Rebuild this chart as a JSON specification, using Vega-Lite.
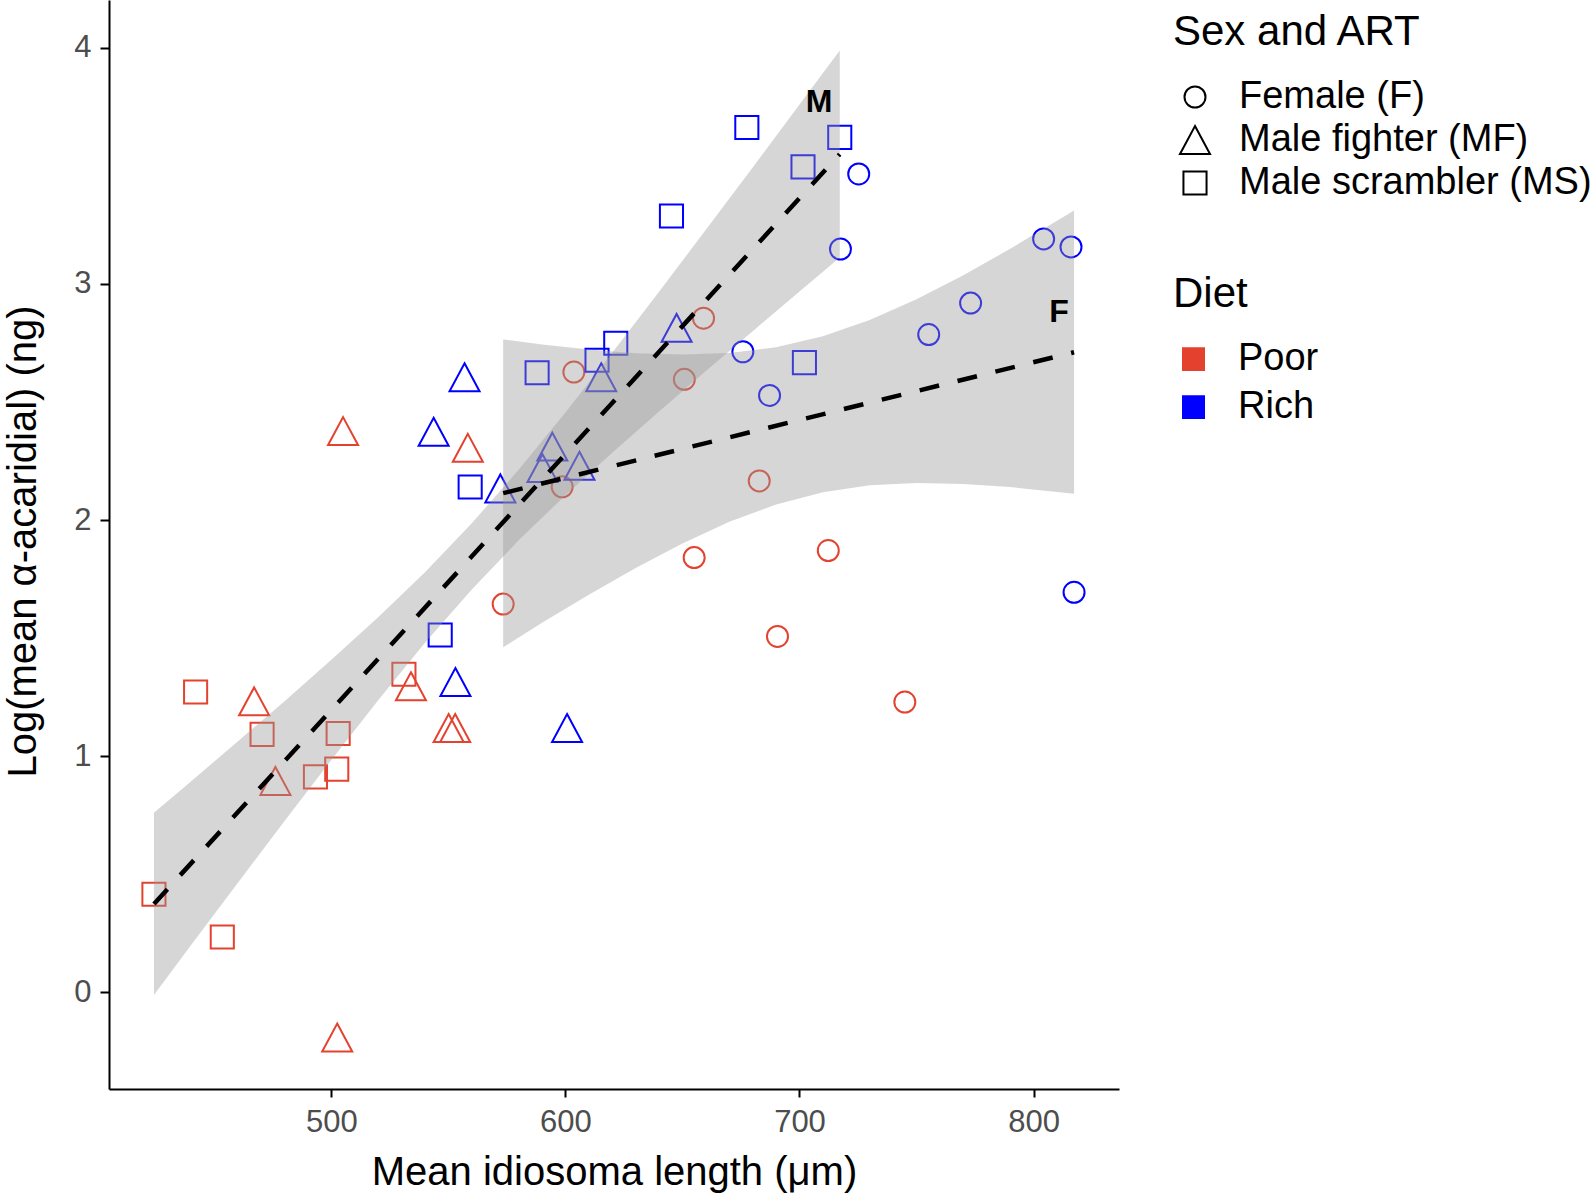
{
  "$schema": "https://vega.github.io/schema/vega-lite/v6.json",
  "width": 1010,
  "height": 1089,
  "autosize": {"type": "none"},
  "padding": {"left": 109, "top": 0, "right": 475, "bottom": 109},
  "background": "white",
  "config": {
    "view": {"stroke": null},
    "font": "Liberation Sans",
    "axis": {
      "grid": false,
      "domainColor": "black",
      "domainWidth": 2,
      "tickColor": "black",
      "tickWidth": 2,
      "labelColor": "#4D4D4D",
      "labelFont": "Liberation Sans",
      "labelFontSize": 31,
      "titleFont": "Liberation Sans",
      "titleFontSize": 40,
      "titleFontWeight": "normal",
      "titleColor": "black"
    },
    "legend": {
      "titleFont": "Liberation Sans",
      "titleFontSize": 42,
      "titleFontWeight": "normal",
      "titleColor": "black",
      "titleLimit": 800,
      "labelFont": "Liberation Sans",
      "labelFontSize": 38,
      "labelColor": "black",
      "labelLimit": 800,
      "padding": 0
    }
  },
  "datasets": {
    "points": [
      {"x": 725.3, "y": 3.466, "sex": "Female (F)", "diet": "Rich"},
      {"x": 717.5, "y": 3.148, "sex": "Female (F)", "diet": "Rich"},
      {"x": 804.3, "y": 3.191, "sex": "Female (F)", "diet": "Rich"},
      {"x": 816.0, "y": 3.157, "sex": "Female (F)", "diet": "Rich"},
      {"x": 773.1, "y": 2.919, "sex": "Female (F)", "diet": "Rich"},
      {"x": 755.2, "y": 2.786, "sex": "Female (F)", "diet": "Rich"},
      {"x": 675.8, "y": 2.713, "sex": "Female (F)", "diet": "Rich"},
      {"x": 687.2, "y": 2.528, "sex": "Female (F)", "diet": "Rich"},
      {"x": 817.3, "y": 1.694, "sex": "Female (F)", "diet": "Rich"},
      {"x": 659.0, "y": 2.855, "sex": "Female (F)", "diet": "Poor"},
      {"x": 603.6, "y": 2.627, "sex": "Female (F)", "diet": "Poor"},
      {"x": 650.8, "y": 2.596, "sex": "Female (F)", "diet": "Poor"},
      {"x": 598.6, "y": 2.141, "sex": "Female (F)", "diet": "Poor"},
      {"x": 682.8, "y": 2.166, "sex": "Female (F)", "diet": "Poor"},
      {"x": 655.0, "y": 1.841, "sex": "Female (F)", "diet": "Poor"},
      {"x": 712.3, "y": 1.871, "sex": "Female (F)", "diet": "Poor"},
      {"x": 573.4, "y": 1.644, "sex": "Female (F)", "diet": "Poor"},
      {"x": 690.6, "y": 1.507, "sex": "Female (F)", "diet": "Poor"},
      {"x": 745.0, "y": 1.229, "sex": "Female (F)", "diet": "Poor"},
      {"x": 556.9, "y": 2.605, "sex": "Male fighter (MF)", "diet": "Rich"},
      {"x": 543.7, "y": 2.374, "sex": "Male fighter (MF)", "diet": "Rich"},
      {"x": 572.2, "y": 2.134, "sex": "Male fighter (MF)", "diet": "Rich"},
      {"x": 594.4, "y": 2.311, "sex": "Male fighter (MF)", "diet": "Rich"},
      {"x": 590.2, "y": 2.220, "sex": "Male fighter (MF)", "diet": "Rich"},
      {"x": 606.0, "y": 2.230, "sex": "Male fighter (MF)", "diet": "Rich"},
      {"x": 615.3, "y": 2.605, "sex": "Male fighter (MF)", "diet": "Rich"},
      {"x": 647.5, "y": 2.814, "sex": "Male fighter (MF)", "diet": "Rich"},
      {"x": 553.0, "y": 1.314, "sex": "Male fighter (MF)", "diet": "Rich"},
      {"x": 600.7, "y": 1.119, "sex": "Male fighter (MF)", "diet": "Rich"},
      {"x": 505.0, "y": 2.377, "sex": "Male fighter (MF)", "diet": "Poor"},
      {"x": 558.3, "y": 2.306, "sex": "Male fighter (MF)", "diet": "Poor"},
      {"x": 467.0, "y": 1.232, "sex": "Male fighter (MF)", "diet": "Poor"},
      {"x": 534.0, "y": 1.296, "sex": "Male fighter (MF)", "diet": "Poor"},
      {"x": 550.1, "y": 1.119, "sex": "Male fighter (MF)", "diet": "Poor"},
      {"x": 552.9, "y": 1.119, "sex": "Male fighter (MF)", "diet": "Poor"},
      {"x": 476.1, "y": 0.895, "sex": "Male fighter (MF)", "diet": "Poor"},
      {"x": 502.5, "y": -0.192, "sex": "Male fighter (MF)", "diet": "Poor"},
      {"x": 677.5, "y": 3.663, "sex": "Male scrambler (MS)", "diet": "Rich"},
      {"x": 717.2, "y": 3.621, "sex": "Male scrambler (MS)", "diet": "Rich"},
      {"x": 701.5, "y": 3.496, "sex": "Male scrambler (MS)", "diet": "Rich"},
      {"x": 645.3, "y": 3.288, "sex": "Male scrambler (MS)", "diet": "Rich"},
      {"x": 621.5, "y": 2.749, "sex": "Male scrambler (MS)", "diet": "Rich"},
      {"x": 613.5, "y": 2.677, "sex": "Male scrambler (MS)", "diet": "Rich"},
      {"x": 587.9, "y": 2.624, "sex": "Male scrambler (MS)", "diet": "Rich"},
      {"x": 702.1, "y": 2.667, "sex": "Male scrambler (MS)", "diet": "Rich"},
      {"x": 559.3, "y": 2.140, "sex": "Male scrambler (MS)", "diet": "Rich"},
      {"x": 546.5, "y": 1.513, "sex": "Male scrambler (MS)", "diet": "Rich"},
      {"x": 442.0, "y": 1.272, "sex": "Male scrambler (MS)", "diet": "Poor"},
      {"x": 470.4, "y": 1.092, "sex": "Male scrambler (MS)", "diet": "Poor"},
      {"x": 502.9, "y": 1.096, "sex": "Male scrambler (MS)", "diet": "Poor"},
      {"x": 531.0, "y": 1.347, "sex": "Male scrambler (MS)", "diet": "Poor"},
      {"x": 493.2, "y": 0.912, "sex": "Male scrambler (MS)", "diet": "Poor"},
      {"x": 502.3, "y": 0.945, "sex": "Male scrambler (MS)", "diet": "Poor"},
      {"x": 424.2, "y": 0.415, "sex": "Male scrambler (MS)", "diet": "Poor"},
      {"x": 453.4, "y": 0.234, "sex": "Male scrambler (MS)", "diet": "Poor"}
    ],
    "ribbon": [
      {"fit": "M", "x": 424.2, "lo": -0.012, "hi": 0.760},
      {"fit": "M", "x": 440, "lo": 0.199, "hi": 0.893},
      {"fit": "M", "x": 460, "lo": 0.463, "hi": 1.062},
      {"fit": "M", "x": 480, "lo": 0.725, "hi": 1.233},
      {"fit": "M", "x": 500, "lo": 0.984, "hi": 1.408},
      {"fit": "M", "x": 520, "lo": 1.237, "hi": 1.588},
      {"fit": "M", "x": 540, "lo": 1.480, "hi": 1.779},
      {"fit": "M", "x": 560, "lo": 1.706, "hi": 1.986},
      {"fit": "M", "x": 580, "lo": 1.914, "hi": 2.213},
      {"fit": "M", "x": 600, "lo": 2.105, "hi": 2.456},
      {"fit": "M", "x": 620, "lo": 2.285, "hi": 2.709},
      {"fit": "M", "x": 640, "lo": 2.460, "hi": 2.967},
      {"fit": "M", "x": 660, "lo": 2.631, "hi": 3.230},
      {"fit": "M", "x": 680, "lo": 2.800, "hi": 3.494},
      {"fit": "M", "x": 700, "lo": 2.968, "hi": 3.760},
      {"fit": "M", "x": 717.2, "lo": 3.112, "hi": 3.989},
      {"fit": "F", "x": 573.4, "lo": 1.461, "hi": 2.765},
      {"fit": "F", "x": 590, "lo": 1.565, "hi": 2.744},
      {"fit": "F", "x": 610, "lo": 1.684, "hi": 2.723},
      {"fit": "F", "x": 630, "lo": 1.797, "hi": 2.707},
      {"fit": "F", "x": 650, "lo": 1.901, "hi": 2.701},
      {"fit": "F", "x": 670, "lo": 1.993, "hi": 2.708},
      {"fit": "F", "x": 690, "lo": 2.066, "hi": 2.732},
      {"fit": "F", "x": 710, "lo": 2.118, "hi": 2.779},
      {"fit": "F", "x": 730, "lo": 2.147, "hi": 2.848},
      {"fit": "F", "x": 750, "lo": 2.157, "hi": 2.935},
      {"fit": "F", "x": 770, "lo": 2.153, "hi": 3.037},
      {"fit": "F", "x": 790, "lo": 2.140, "hi": 3.149},
      {"fit": "F", "x": 817.3, "lo": 2.111, "hi": 3.311}
    ],
    "fitline": [
      {"fit": "M", "x": 424.2, "y": 0.374},
      {"fit": "M", "x": 717.2, "y": 3.550},
      {"fit": "F", "x": 573.4, "y": 2.114},
      {"fit": "F", "x": 817.3, "y": 2.711}
    ],
    "labels": [
      {"label": "M", "x": 708.4, "y": 3.78},
      {"label": "F", "x": 810.9, "y": 2.89}
    ]
  },
  "layer": [
    {
      "data": {"name": "points"},
      "mark": {"type": "point", "filled": false, "size": 900, "strokeWidth": 2, "opacity": 1},
      "encoding": {
        "x": {
          "field": "x", "type": "quantitative",
          "scale": {"domain": [405, 836.5], "nice": false, "zero": false},
          "axis": {
            "values": [500, 600, 700, 800],
            "format": "d",
            "title": "Mean idiosoma length (μm)",
            "titleY": 95, "titleBaseline": "alphabetic",
            "labelBaseline": "alphabetic", "labelPadding": 34, "tickSize": 8
          }
        },
        "y": {
          "field": "y", "type": "quantitative",
          "scale": {"domain": [-0.41, 4.203], "nice": false, "zero": false},
          "axis": {
            "values": [0, 1, 2, 3, 4],
            "format": "d",
            "title": "Log(mean α-acaridial) (ng)",
            "titleX": -74, "titleY": 541, "titleAngle": 270,
            "titleBaseline": "alphabetic", "titleAlign": "center",
            "tickSize": 9, "labelPadding": 9
          }
        },
        "shape": {
          "field": "sex", "type": "nominal",
          "scale": {
            "domain": ["Female (F)", "Male fighter (MF)", "Male scrambler (MS)"],
            "range": [
              "M 0.7 0 C 0.7 0.3866 0.3866 0.7 0 0.7 C -0.3866 0.7 -0.7 0.3866 -0.7 0 C -0.7 -0.3866 -0.3866 -0.7 0 -0.7 C 0.3866 -0.7 0.7 -0.3866 0.7 0 Z",
              "M 0 -0.93 L 1 0.93 L -1 0.93 Z",
              "M -0.77 -0.77 L 0.77 -0.77 L 0.77 0.77 L -0.77 0.77 Z"
            ]
          },
          "legend": {
            "title": "Sex and ART",
            "orient": "none", "legendX": 1064, "legendY": 12,
            "symbolSize": 900, "symbolStrokeWidth": 2,
            "symbolStrokeColor": "black", "symbolFillColor": "transparent",
            "symbolOffset": 3, "labelOffset": 25,
            "titlePadding": 24, "rowPadding": 5,
            "encode": {
              "symbols": {
                "stroke": {"value": "black"},
                "fill": {"value": "transparent"},
                "strokeWidth": {"value": 2},
                "opacity": {"value": 1}
              }
            }
          }
        },
        "color": {
          "field": "diet", "type": "nominal",
          "scale": {"domain": ["Poor", "Rich"], "range": ["#E4422F", "#0000FF"]},
          "legend": {
            "title": "Diet",
            "orient": "none", "legendX": 1064, "legendY": 274,
            "symbolType": "M -1 -0.75 L 1 -0.75 M -1 -0.25 L 1 -0.25 M -1 0.25 L 1 0.25 M -1 0.75 L 1 0.75",
            "symbolSize": 529, "symbolStrokeWidth": 6.5,
            "symbolOffset": 1.5, "labelOffset": 25.5,
            "titlePadding": 24, "rowPadding": 4,
            "encode": {
              "symbols": {
                "shape": {"value": "M -1 -0.75 L 1 -0.75 M -1 -0.25 L 1 -0.25 M -1 0.25 L 1 0.25 M -1 0.75 L 1 0.75"},
                "size": {"value": 529},
                "strokeWidth": {"value": 6.5},
                "strokeJoin": {"value": "bevel"},
                "strokeCap": {"value": "butt"},
                "fill": {"value": "transparent"},
                "opacity": {"value": 1}
              }
            }
          }
        }
      }
    },
    {
      "data": {"name": "ribbon"},
      "mark": {"type": "area", "color": "#999999", "opacity": 0.4},
      "encoding": {
        "x": {"field": "x", "type": "quantitative", "title": "Mean idiosoma length (μm)",
              "scale": {"domain": [405, 836.5], "nice": false, "zero": false}},
        "y": {"field": "lo", "type": "quantitative", "title": "Log(mean α-acaridial) (ng)",
              "scale": {"domain": [-0.41, 4.203], "nice": false, "zero": false}},
        "y2": {"field": "hi"},
        "detail": {"field": "fit"}
      }
    },
    {
      "data": {"name": "fitline"},
      "mark": {"type": "line", "color": "black", "strokeWidth": 4.5, "strokeDash": [20, 19], "strokeCap": "butt"},
      "encoding": {
        "x": {"field": "x", "type": "quantitative", "title": "Mean idiosoma length (μm)",
              "scale": {"domain": [405, 836.5], "nice": false, "zero": false}},
        "y": {"field": "y", "type": "quantitative", "title": "Log(mean α-acaridial) (ng)",
              "scale": {"domain": [-0.41, 4.203], "nice": false, "zero": false}},
        "detail": {"field": "fit"}
      }
    },
    {
      "data": {"name": "labels"},
      "mark": {"type": "text", "fontSize": 32, "fontWeight": "bold", "font": "Liberation Sans", "color": "black", "baseline": "middle", "align": "center", "dy": 2},
      "encoding": {
        "x": {"field": "x", "type": "quantitative", "title": "Mean idiosoma length (μm)",
              "scale": {"domain": [405, 836.5], "nice": false, "zero": false}},
        "y": {"field": "y", "type": "quantitative", "title": "Log(mean α-acaridial) (ng)",
              "scale": {"domain": [-0.41, 4.203], "nice": false, "zero": false}},
        "text": {"field": "label"}
      }
    }
  ]
}
